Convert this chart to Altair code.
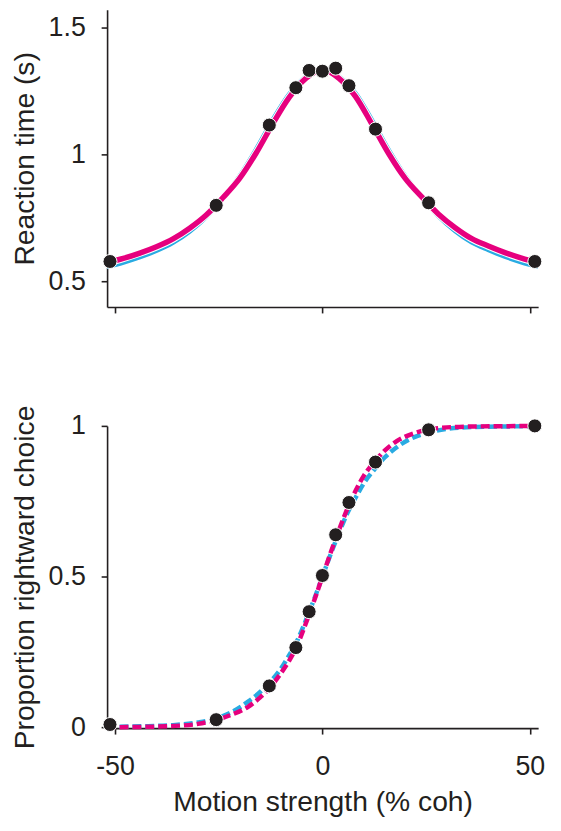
import altair as alt
import pandas as pd

# ---- data ----
coh = [-51.2, -25.6, -12.8, -6.4, -3.2, 0, 3.2, 6.4, 12.8, 25.6, 51.2]
rt_obs = [0.579, 0.800, 1.116, 1.263, 1.331, 1.328, 1.340, 1.271, 1.100, 0.810, 0.579]
p_obs = [0.010, 0.026, 0.138, 0.265, 0.384, 0.504, 0.639, 0.746, 0.880, 0.987, 1.000]

rt_coh = [-52, -48, -44, -40, -36, -32, -28, -24, -20, -16, -12, -8, -4, 0,
          4, 8, 12, 16, 20, 24, 28, 32, 36, 40, 44, 48, 52]
rt_fit_magenta = [0.574, 0.591, 0.612, 0.637, 0.668, 0.710, 0.762, 0.830, 0.905, 1.005,
                  1.120, 1.225, 1.300, 1.335, 1.300, 1.228, 1.118, 1.003, 0.905, 0.832,
                  0.765, 0.712, 0.669, 0.640, 0.614, 0.592, 0.574]
rt_fit_blue = [0.559, 0.576, 0.597, 0.622, 0.654, 0.698, 0.755, 0.828, 0.913, 1.018,
               1.134, 1.236, 1.305, 1.335, 1.305, 1.239, 1.132, 1.016, 0.913, 0.832,
               0.758, 0.700, 0.655, 0.625, 0.599, 0.577, 0.559]

p_coh = [-52, -44, -36, -30, -25.6, -22, -18, -15, -12.8, -10, -8, -6, -4, -2, 0,
         2, 4, 6, 8, 10, 12.8, 15, 18, 22, 25.6, 30, 36, 44, 52]
p_fit_magenta = [0.001, 0.002, 0.005, 0.012, 0.025, 0.042, 0.068, 0.100, 0.130, 0.180,
                 0.222, 0.275, 0.345, 0.420, 0.500, 0.580, 0.655, 0.725, 0.785, 0.835,
                 0.885, 0.918, 0.950, 0.975, 0.988, 0.995, 0.998, 0.999, 1.000]
p_fit_blue = [0.002, 0.004, 0.008, 0.017, 0.030, 0.050, 0.085, 0.118, 0.148, 0.195,
              0.240, 0.290, 0.355, 0.425, 0.500, 0.575, 0.645, 0.710, 0.762, 0.810,
              0.860, 0.895, 0.930, 0.962, 0.978, 0.990, 0.996, 0.998, 0.999]

x_ticks = [-50, 0, 50]

MAGENTA = "#E6007E"
BLUE = "#29ABE2"
DARK = "#231F20"
FONT = "Liberation Sans"

obs = pd.DataFrame({"coh": coh, "rt": rt_obs, "p": p_obs})
rt_m = pd.DataFrame({"coh": rt_coh, "v": rt_fit_magenta})
rt_b = pd.DataFrame({"coh": rt_coh, "v": rt_fit_blue})
p_m = pd.DataFrame({"coh": p_coh, "v": p_fit_magenta})
p_b = pd.DataFrame({"coh": p_coh, "v": p_fit_blue})

W = 435
xscale = alt.Scale(domain=[-51.9, 52.0], nice=False, zero=False)
xlabel_expr = "datum.value < 0 ? '-' + format(-datum.value, 'd') : format(datum.value, 'd')"

# ---------- top panel ----------
yscale_rt = alt.Scale(domain=[0.4, 1.57], nice=False, zero=False)
x_top = alt.X("coh:Q", scale=xscale,
              axis=alt.Axis(values=x_ticks, labels=False, title=None))
y_rt_axis = alt.Axis(values=[0.5, 1, 1.5], format="~g", title="Reaction time (s)")

top_blue = alt.Chart(rt_b).mark_line(color=BLUE, strokeWidth=5, interpolate="monotone").encode(
    x=x_top, y=alt.Y("v:Q", scale=yscale_rt, axis=y_rt_axis))
top_white = alt.Chart(rt_m).mark_line(color="white", strokeWidth=7.5, interpolate="monotone").encode(
    x=x_top, y=alt.Y("v:Q", scale=yscale_rt, axis=y_rt_axis))
top_mag = alt.Chart(rt_m).mark_line(color=MAGENTA, strokeWidth=5.5, interpolate="monotone").encode(
    x=x_top, y=alt.Y("v:Q", scale=yscale_rt, axis=y_rt_axis))
top_dots = alt.Chart(obs).mark_point(filled=True, shape="circle", size=200, color=DARK,
                                     stroke="white", strokeWidth=1, opacity=1).encode(
    x=x_top, y=alt.Y("rt:Q", scale=yscale_rt, axis=y_rt_axis))

top = alt.layer(top_blue, top_white, top_mag, top_dots).properties(width=W, height=300)

# ---------- bottom panel ----------
yscale_p = alt.Scale(domain=[-0.002, 1.0], nice=False, zero=False)
x_bot = alt.X("coh:Q", scale=xscale,
              axis=alt.Axis(values=x_ticks, labelExpr=xlabel_expr,
                            title="Motion strength (% coh)"))
y_p_axis = alt.Axis(values=[0, 0.5, 1], format="~g", title="Proportion rightward choice")

bot_blue = alt.Chart(p_b).mark_line(color=BLUE, strokeWidth=4.5, strokeDash=[9, 4],
                                    interpolate="monotone").encode(
    x=x_bot, y=alt.Y("v:Q", scale=yscale_p, axis=y_p_axis))
bot_mag = alt.Chart(p_m).mark_line(color=MAGENTA, strokeWidth=4.5, strokeDash=[9, 4],
                                   interpolate="monotone").encode(
    x=x_bot, y=alt.Y("v:Q", scale=yscale_p, axis=y_p_axis))
bot_dots = alt.Chart(obs).mark_point(filled=True, shape="circle", size=200, color=DARK,
                                     stroke="white", strokeWidth=1, opacity=1).encode(
    x=x_bot, y=alt.Y("p:Q", scale=yscale_p, axis=y_p_axis))

bottom = alt.layer(bot_blue, bot_mag, bot_dots).properties(width=W, height=305)

chart = alt.vconcat(top, bottom, spacing=120, bounds="flush").properties(
    padding={"left": 2, "top": -2, "right": 0, "bottom": 0}
).configure_view(stroke=None).configure_axis(
    grid=False,
    domainColor=DARK, domainWidth=1.6,
    tickColor=DARK, tickWidth=1.6, tickSize=6,
    labelFont=FONT, labelFontSize=27, labelColor=DARK, labelPadding=16,
    titleFont=FONT, titleFontSize=28.5, titleColor=DARK, titleFontWeight="normal",
    titlePadding=8.7,
).configure_axisX(labelPadding=20, titlePadding=8)

chart.save("out.html", embed_options={"renderer": "svg", "actions": False})
